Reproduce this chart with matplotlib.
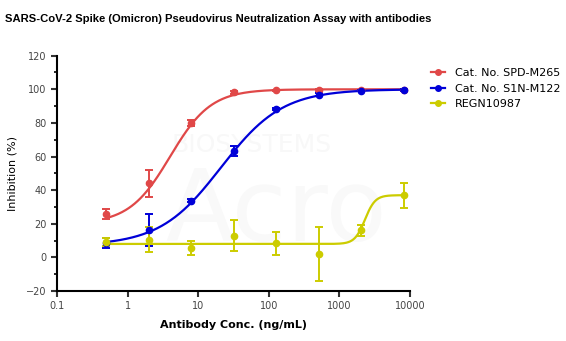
import numpy as np
import matplotlib.pyplot as plt
from matplotlib.ticker import FixedLocator, MultipleLocator, NullLocator

conc = [0.5, 2, 8, 32, 128, 512, 2048, 8192]

spd_mean = [26, 44, 80, 98.3, 99.3, 99.4, 99.3, 99.4]
spd_err = [3, 8, 2, 0.8, 0.5, 0.5, 0.5, 0.5]

s1n_mean = [8.5, 16.5, 33.8, 63.5, 88.2, 96.8, 99.2, 99.5]
s1n_err = [3, 9.5, 0.8, 3, 0.8, 0.8, 0.5, 0.5]

regn_mean = [9, 10.5, 5.5, 13, 8.3, 1.8, 16, 37]
regn_err = [2.5, 7.5, 4, 9, 7, 16, 3, 7.5]

# 4PL fit parameters (bottom, top, ec50, hill)
spd_fit = (20, 100, 4.0, 1.5)
s1n_fit = (7, 100, 21, 1.0)
regn_fit = (8, 37, 2300, 6)

labels = ['Cat. No. SPD-M265', 'Cat. No. S1N-M122', 'REGN10987']
colors = ['#e04848', '#0000d8', '#cccc00']


def four_pl(x, fit):
    "four parameter logistic curve"
    bottom, top, ec50, hill = fit
    return bottom + (top - bottom) / (1 + (ec50 / x) ** hill)


fig = plt.figure(figsize=(5.66, 3.41), dpi=100)
ax = fig.add_axes([0.1007, 0.1466, 0.6237, 0.6901])

# faint watermark
ax.text(0.55, 0.62, 'BIOSYSTEMS', transform=ax.transAxes, fontsize=18,
        color='#f8f8f8', ha='center', va='center', zorder=0)
ax.text(0.62, 0.33, 'Acro', transform=ax.transAxes, fontsize=72,
        color='#f9f9f9', ha='center', va='center', zorder=0)

xs = np.logspace(np.log10(0.5), np.log10(8192), 400)
series = [(spd_mean, spd_err, spd_fit), (s1n_mean, s1n_err, s1n_fit),
          (regn_mean, regn_err, regn_fit)]
for (mean, err, fit), lab, col in zip(series, labels, colors):
    ax.plot(xs, four_pl(xs, fit), color=col, lw=1.6, zorder=2)
    ax.errorbar(conc, mean, yerr=err, fmt='o', color=col, ms=4.5,
                elinewidth=1.4, capsize=3, capthick=1.4, zorder=3)
    ax.plot([], [], '-o', color=col, ms=4, lw=1.6, label=lab)

ax.set_xscale('log')
ax.set_xlim(0.1, 10000)
ax.set_ylim(-20, 120)
ax.xaxis.set_major_locator(FixedLocator([0.1, 1, 10, 100, 1000, 10000]))
ax.set_xticklabels(['0.1', '1', '10', '100', '1000', '10000'])
ax.xaxis.set_minor_locator(NullLocator())
ax.yaxis.set_major_locator(MultipleLocator(20))
ax.yaxis.set_minor_locator(MultipleLocator(10))

for side in ['top', 'right']:
    ax.spines[side].set_visible(False)
for side in ['left', 'bottom']:
    ax.spines[side].set_linewidth(1.5)
ax.tick_params(which='major', length=4, width=1.5, labelsize=7, colors='#333333')
ax.tick_params(which='minor', length=2.5, width=1.2)
ax.tick_params(axis='both', labelcolor='#444444')

ax.set_xlabel('Antibody Conc. (ng/mL)', fontsize=8, fontweight='bold', labelpad=6)
ax.set_ylabel('Inhibition (%)', fontsize=8, labelpad=6)

fig.text(0.008, 0.945, 'SARS-CoV-2 Spike (Omicron) Pseudovirus Neutralization Assay with antibodies',
         fontsize=8.1, fontweight='bold', family='Liberation Sans', va='center')

ax.legend(loc='upper left', bbox_to_anchor=(1.03, 0.99), frameon=False,
          fontsize=8, handlelength=1.3, handletextpad=0.9, labelspacing=0.5)

fig.savefig('out.png', dpi=100)
